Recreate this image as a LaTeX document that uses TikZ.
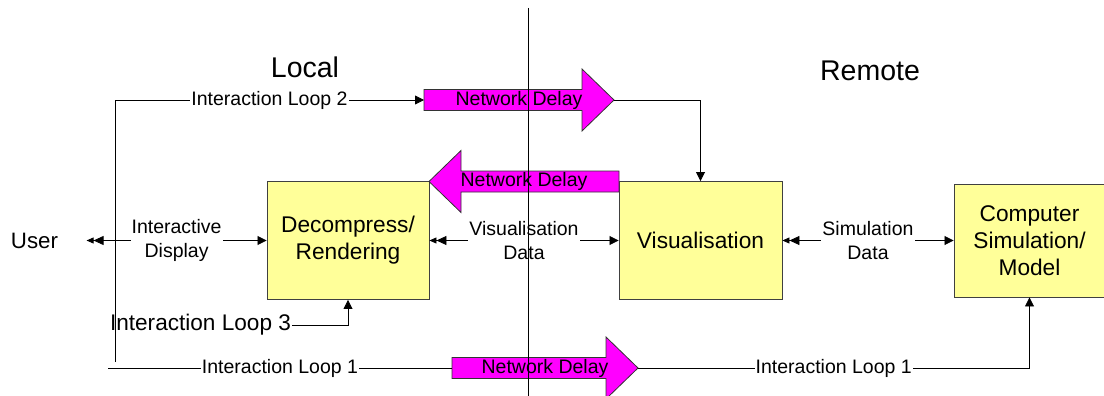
\documentclass[tikz,border=0pt]{standalone}
\usepackage{fontspec}
\setmainfont{Liberation Sans}
\usetikzlibrary{arrows.meta}
\definecolor{boxyellow}{HTML}{FFFF99}
\definecolor{delaypink}{RGB}{255,0,255}

% magenta block arrow: name, tail x, tip x, y
\newcommand{\delayarrow}[4]{%
  \pgfmathsetmacro{\hb}{#3-32*sign(#3-#2)}
  \filldraw[delay] (#2,#4-10.5) -- (\hb,#4-10.5) -- (\hb,#4-31) -- (#3,#4)
    -- (\hb,#4+31) -- (\hb,#4+10.5) -- (#2,#4+10.5) -- cycle;
  \coordinate (#1-tail) at (#2,#4);
  \coordinate (#1-tip) at (#3,#4);
  \node[font=\fontsize{19.5}{23}\selectfont] (#1) at ({(#2+#3)/2},#4) {Network Delay};
}

\begin{document}
\begin{tikzpicture}[x=1pt, y=-1pt]
        \tikzset{block/.style={draw=black!75, fill=boxyellow, line width=0.9pt, minimum width=162pt, minimum height=118pt, align=center, font=\fontsize{22.7}{27}\selectfont},
                 lbl/.style={fill=white, inner sep=1pt, align=center, font=\fontsize{19.5}{23.3}\selectfont},
                 delay/.style={draw=black!80, fill=delaypink, line width=0.8pt},
                 link/.style={line width=0.8pt, -{Triangle[length=9pt,width=9pt]}},
                 duplex/.style={line width=0.8pt, {Triangle[length=7pt,width=6pt]Triangle[length=10pt,width=9pt]}-{Triangle[length=9pt,width=9pt]}}}
        \useasboundingbox (0,0) rectangle (1104,396);
        \coordinate (divtop) at (528,8);
        \coordinate (divbot) at (528,396);
        \coordinate (loopfoot) at (115,362);
        \coordinate (loopstart) at (108,368);
        % the two sides
        \node[anchor=base, font=\fontsize{28.5}{30}\selectfont] (local) at (305,77.7) {Local};
        \node[anchor=base, font=\fontsize{28.5}{30}\selectfont] (remote) at (870,81) {Remote};
        % blocks
        \node[block] (dec) at (348,240.5) {Decompress/\\Rendering};
        \node[block, minimum width=163pt] (vis) at (700.5,240.5) {Visualisation};
        \node[block, minimum width=151pt, minimum height=113pt] (sim) at (1029.5,240.5) {Computer\\Simulation/\\Model};
        \node[font=\fontsize{22.3}{24}\selectfont] (user) at (34.5,240.5) {User};
        \node[inner sep=1pt, font=\fontsize{22.6}{24}\selectfont] (loop3) at (200.5,325) {Interaction Loop 3};
        % network delays
        \delayarrow{ndtop}{424}{614}{100}
        \delayarrow{ndmid}{619}{429}{181.5}
        \delayarrow{ndbot}{452}{638}{368}
        % data flow
        \draw[duplex] ([xshift=25pt]user.east) -- node[lbl] {Interactive\\Display} (dec.west);
        \draw[duplex] (dec.east) -- node[lbl] {Visualisation\\Data} (vis.west);
        \draw[duplex] (vis.east) -- node[lbl] {Simulation\\Data} (sim.west);
        % interaction loops
        \draw[link] (loopfoot) |- node[lbl, pos=0.75] {Interaction Loop 2} (ndtop-tail);
        \draw[link] (ndtop-tip) -| (vis.north);
        \draw[link] (loop3.east) -| (dec.south);
        \draw[line width=0.8pt] (loopstart) -- node[lbl] {Interaction Loop 1} (ndbot-tail);
        \draw[link] (ndbot-tip) -| node[lbl, pos=0.25] {Interaction Loop 1} (sim.south);
        % local / remote divide
        \draw[line width=0.8pt] (divtop) -- (divbot);
\end{tikzpicture}
\end{document}
